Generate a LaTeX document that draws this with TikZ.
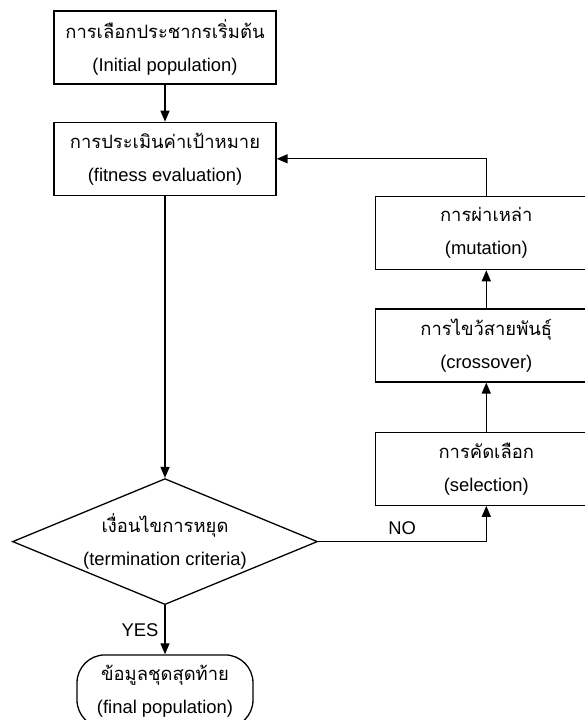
\documentclass[tikz,border=0pt]{standalone}
\usepackage{fontspec}
\setmainfont{Liberation Sans}
\newfontfamily\thaifont[Script=Thai]{Loma}
\newcommand{\thai}[1]{{\thaifont #1}}
\usetikzlibrary{shapes.geometric, arrows.meta, positioning}
\tikzset{every node/.append style={align=center, inner sep=3pt}}

\begin{document}
\begin{tikzpicture}[x=0.5pt, y=-0.5pt, font=\fontsize{9.2}{16.5}\selectfont, node distance=18.5pt,
    b/.style={rectangle, draw, line width=0.65pt, minimum width=111pt, minimum height=36.5pt},
    d/.style={diamond, aspect=2.42, draw, line width=0.65pt, minimum width=152.5pt, minimum height=63pt, inner sep=0pt},
    t/.style={rectangle, rounded corners=14pt, draw, line width=0.65pt, minimum width=88pt, minimum height=36.5pt},
    a/.style={-{Triangle[length=5.5pt, width=4.5pt]}, line width=0.65pt}]
\useasboundingbox (0,0) rectangle (585,720);
\node[b] (init) at (165,47.5) {\thai{การเลือกประชากรเริ่มต้น}\\(Initial population)};
\node[b, below=of init] (fit) {\thai{การประเมินค่าเป้าหมาย}\\(fitness evaluation)};
\node[d, below=141pt of fit] (stop) {\thai{เงื่อนไขการหยุด}\\(termination criteria)};
\node[t, below=24.5pt of stop] (final) {\thai{ข้อมูลชุดสุดท้าย}\\(final population)};
\node[b, below right=0pt and 49pt of fit] (mut) {\thai{การผ่าเหล่า}\\(mutation)};
\node[b, below=19pt of mut] (cross) {\thai{การไขว้สายพันธุ์}\\(crossover)};
\node[b, below=24.5pt of cross] (sel) {\thai{การคัดเลือก}\\(selection)};
\draw[a] (init) -- (fit);
\draw[a] (fit) -- (stop);
\draw[a] (stop) -- node[left] {YES} (final);
\draw[a] (stop.east) -| node[above, pos=0.25] {NO} (sel.south);
\draw[a] (sel) -- (cross);
\draw[a] (cross) -- (mut);
\draw[a] (mut.north) |- (fit.east);
\end{tikzpicture}
\end{document}
